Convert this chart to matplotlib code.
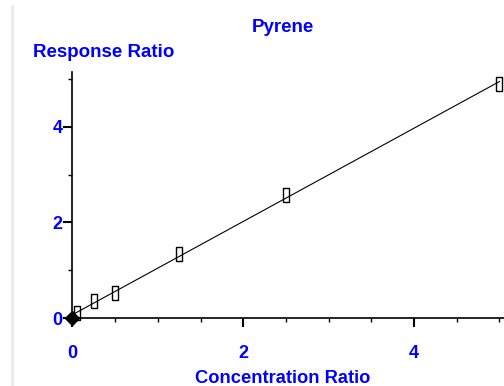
import numpy as np
import matplotlib.pyplot as plt
from matplotlib.lines import Line2D

# Data
conc = [0.05, 0.25, 0.5, 1.25, 2.5, 5.0]
resp = [0.12, 0.36, 0.53, 1.34, 2.57, 4.90]
origin_x = [0.0]
origin_y = [0.0]
x_ticks = [0, 2, 4]
y_ticks = [0, 2, 4]

blue = '#0000ff'
font = 'Liberation Sans'

fig = plt.figure(figsize=(5.04, 3.86), dpi=100)
ax = fig.add_axes([0.1438, 0.1754, 0.8562, 0.638])

# Calibration line (least squares through all points incl. origin)
xs = np.array(origin_x + conc)
ys = np.array(origin_y + resp)
slope, icpt = np.polyfit(xs, ys, 1)
xl = np.array([0, max(conc)])
ax.plot(xl, slope * xl + icpt, color='black', lw=0.8, zorder=2)

# Open tall rectangles for the standards
rect = [(-0.43, -1), (0.43, -1), (0.43, 1), (-0.43, 1), (-0.43, -1)]
ax.plot(conc, resp, linestyle='none', marker=rect, markersize=10,
        markerfacecolor='none', markeredgecolor='black', markeredgewidth=1,
        clip_on=False, zorder=3)
ax.plot(origin_x, origin_y, linestyle='none', marker='D', markersize=7,
        color='black', clip_on=False, zorder=4)

ax.set_xlim(0, 5.053)
ax.set_ylim(0, 5.14)
ax.set_xticks(x_ticks)
ax.set_yticks(y_ticks)
ax.set_xticks(np.arange(0.5, 5.01, 0.5), minor=True)
ax.set_yticks([1, 3, 5], minor=True)

for s in ['top', 'right']:
    ax.spines[s].set_visible(False)
for s in ['left', 'bottom']:
    ax.spines[s].set_linewidth(1.2)

ax.tick_params(which='major', length=6.5, width=1.5, color='black')
ax.tick_params(which='minor', length=3, width=1, color='black')
ax.tick_params(axis='x', which='major', pad=12.5)
ax.tick_params(axis='y', which='major', pad=0.5)
for lab in ax.get_xticklabels() + ax.get_yticklabels():
    lab.set_fontfamily(font)
    lab.set_fontweight('bold')
    lab.set_fontsize(13)
    lab.set_color(blue)

fig.text(283 / 504, 1 - 32 / 386, 'Pyrene', ha='center', va='baseline',
         color=blue, fontsize=13.5, fontweight='bold', family=font)
fig.text(33 / 504, 1 - 57 / 386, 'Response Ratio', ha='left', va='baseline',
         color=blue, fontsize=13.5, fontweight='bold', family=font)
fig.text(282.5 / 504, 1 - 383 / 386, 'Concentration Ratio', ha='center',
         va='baseline', color=blue, fontsize=13.2, fontweight='bold', family=font)

# light grey frame line at the left edge
fig.add_artist(Line2D([12 / 504, 12 / 504], [0, 1 - 6 / 386],
                      color='#e8e8e8', lw=1.8))

fig.savefig('out.png', dpi=100, facecolor='white')
